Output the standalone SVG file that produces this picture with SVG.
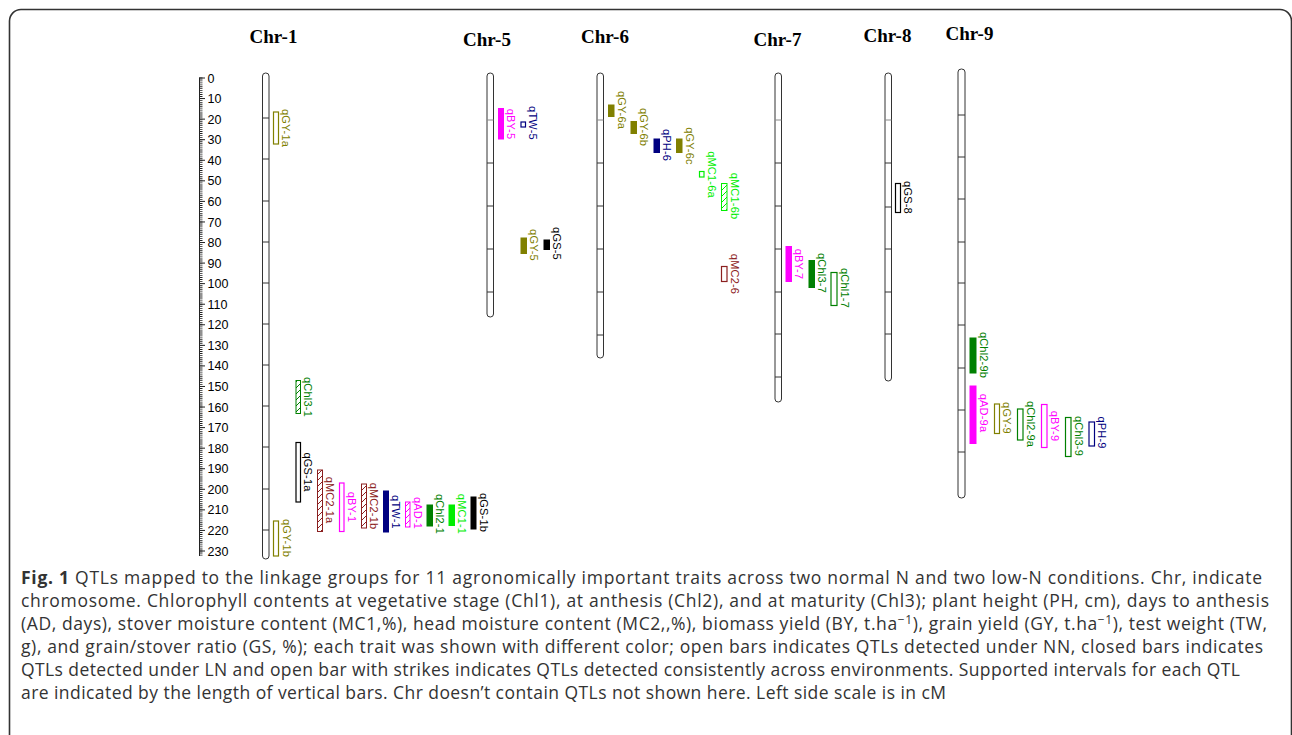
<svg xmlns="http://www.w3.org/2000/svg" width="1292" height="735" viewBox="0 0 1292 735">
<style>
.title{font-family:"Liberation Serif","Times New Roman",serif;font-weight:bold;font-size:19px;fill:#000;text-anchor:middle}
.scl{font-family:"Liberation Sans",Arial,sans-serif;font-size:12.5px;fill:#000}
.lbl{font-family:"Liberation Sans",Arial,sans-serif;font-size:11px;letter-spacing:0.2px;text-anchor:middle}
.chr{fill:#fff;stroke:#333;stroke-width:1}
.tk{stroke:#333;stroke-width:1}
.cap{font-family:"Open Sans","Noto Sans",sans-serif;font-size:17.5px;fill:#333}
.ol{stroke:#808000;fill:#808000}.mg{stroke:#ff00ff;fill:#ff00ff}.nv{stroke:#000080;fill:#000080}
.bk{stroke:#000;fill:#000}.lm{stroke:#00ee00;fill:#00ee00}.dr{stroke:#8b2020;fill:#8b2020}.gr{stroke:#008000;fill:#008000}
.open{fill:#fff;stroke-width:1.2}
.lbl.ol,.lbl.mg,.lbl.nv,.lbl.bk,.lbl.lm,.lbl.dr,.lbl.gr{stroke:none}
</style>
<defs>
<pattern id="h-gr" patternUnits="userSpaceOnUse" width="6" height="6"><rect width="6" height="6" fill="#fff"/><path d="M-1,7L7,-1M-1,1L1,-1M5,7L7,5" stroke="#008000" stroke-width="1"/></pattern>
<pattern id="h-dr" patternUnits="userSpaceOnUse" width="6" height="6"><rect width="6" height="6" fill="#fff"/><path d="M-1,7L7,-1M-1,1L1,-1M5,7L7,5" stroke="#8b2020" stroke-width="1"/></pattern>
<pattern id="h-mg" patternUnits="userSpaceOnUse" width="6" height="6"><rect width="6" height="6" fill="#fff"/><path d="M-1,7L7,-1M-1,1L1,-1M5,7L7,5" stroke="#ff00ff" stroke-width="1"/></pattern>
<pattern id="h-lm" patternUnits="userSpaceOnUse" width="6" height="6"><rect width="6" height="6" fill="#fff"/><path d="M-1,7L7,-1M-1,1L1,-1M5,7L7,5" stroke="#00ee00" stroke-width="1"/></pattern>
</defs>
<rect width="1292" height="735" fill="#fff"/>
<path d="M9.5,736V21A11.5,11.5 0 0 1 21,9.5H1280A11.5,11.5 0 0 1 1291.5,21V736" fill="none" stroke="#333" stroke-width="1.6"/>

<g id="scale">
<line x1="199.5" y1="78" x2="199.5" y2="556" stroke="#222" stroke-width="1"/>
<line x1="200.75" y1="77.55" x2="200.75" y2="556" stroke="#222" stroke-width="3.5" stroke-dasharray="0.9 1.1565"/>
<path stroke="#222" stroke-width="1" d="M199,78h6M199,98.57h6M199,119.13h6M199,139.7h6M199,160.26h6M199,180.83h6M199,201.39h6M199,221.96h6M199,242.52h6M199,263.09h6M199,283.65h6M199,304.22h6M199,324.78h6M199,345.35h6M199,365.91h6M199,386.48h6M199,407.04h6M199,427.61h6M199,448.17h6M199,468.74h6M199,489.3h6M199,509.87h6M199,530.43h6M199,551h6"/>
<g class="scl">
<text x="207.5" y="82.5">0</text><text x="207.5" y="103.1">10</text><text x="207.5" y="123.6">20</text><text x="207.5" y="144.2">30</text><text x="207.5" y="164.8">40</text><text x="207.5" y="185.3">50</text><text x="207.5" y="205.9">60</text><text x="207.5" y="226.5">70</text><text x="207.5" y="247">80</text><text x="207.5" y="267.6">90</text><text x="207.5" y="288.2">100</text><text x="207.5" y="308.7">110</text><text x="207.5" y="329.3">120</text><text x="207.5" y="349.9">130</text><text x="207.5" y="370.4">140</text><text x="207.5" y="391">150</text><text x="207.5" y="411.5">160</text><text x="207.5" y="432.1">170</text><text x="207.5" y="452.7">180</text><text x="207.5" y="473.2">190</text><text x="207.5" y="493.8">200</text><text x="207.5" y="514.4">210</text><text x="207.5" y="534.9">220</text><text x="207.5" y="555.5">230</text>
</g>
</g>

<g id="chr-1">
<text class="title" x="273.5" y="43">Chr-1</text>
<rect class="chr" x="262.5" y="73" width="6.5" height="486" rx="3.2" ry="3"/>
<path class="tk" d="M262.5,118h6.5M262.5,159h6.5M262.5,201h6.5M262.5,242h6.5M262.5,283h6.5M262.5,324h6.5M262.5,365h6.5M262.5,406h6.5M262.5,447h6.5M262.5,489h6.5M262.5,530h6.5"/>
</g>
<g id="chr-5">
<text class="title" x="487" y="45.5">Chr-5</text>
<rect class="chr" x="487" y="73" width="6.5" height="244" rx="3.2" ry="3"/>
<path class="tk" d="M487,163h6.5M487,206h6.5M487,249h6.5M487,292h6.5"/><path d="M487,120h6.5" stroke="#888"/>
</g>
<g id="chr-6">
<text class="title" x="605" y="43">Chr-6</text>
<rect class="chr" x="597" y="73" width="6.5" height="285" rx="3.2" ry="3"/>
<path class="tk" d="M597,163h6.5M597,206h6.5M597,249h6.5M597,292h6.5M597,335h6.5"/><path d="M597,120h6.5" stroke="#888"/>
</g>
<g id="chr-7">
<text class="title" x="777.5" y="46">Chr-7</text>
<rect class="chr" x="775" y="73" width="6.5" height="329" rx="3.2" ry="3"/>
<path class="tk" d="M775,163h6.5M775,206h6.5M775,249h6.5M775,292h6.5M775,334h6.5M775,377h6.5"/><path d="M775,120h6.5" stroke="#888"/>
</g>
<g id="chr-8">
<text class="title" x="887.5" y="42">Chr-8</text>
<rect class="chr" x="885" y="73" width="6.5" height="308" rx="3.2" ry="3"/>
<path class="tk" d="M885,163h6.5M885,207h6.5M885,249h6.5M885,292h6.5M885,334h6.5"/><path d="M885,120h6.5" stroke="#888"/>
</g>
<g id="chr-9">
<text class="title" x="969.5" y="40">Chr-9</text>
<rect class="chr" x="958" y="69" width="7" height="429" rx="3.4" ry="3"/>
<path class="tk" d="M958,115h7M958,157h7M958,199h7M958,242h7M958,283h7M958,325h7M958,368h7M958,410h7M958,452h7"/>
</g>

<g id="qGY-1a"><rect class="ol open" x="273.5" y="112" width="5" height="32"/><text class="lbl ol" transform="translate(282,128) rotate(90)">qGY-1a</text></g>
<g id="qChl3-1"><rect class="gr" x="296" y="380.5" width="4.5" height="33" style="fill:url(#h-gr)"/><text class="lbl gr" transform="translate(304,397) rotate(90)">qChl3-1</text></g>
<g id="qGS-1a"><rect class="bk open" x="296" y="442.5" width="4.5" height="59.5"/><text class="lbl bk" transform="translate(304,472) rotate(90)">qGS-1a</text></g>
<g id="qGY-1b"><rect class="ol open" x="273.5" y="521" width="5" height="35"/><text class="lbl ol" transform="translate(282.5,538) rotate(90)">qGY-1b</text></g>
<g id="qMC2-1a"><rect class="dr" style="fill:url(#h-dr)" x="317.5" y="470" width="5" height="61.5"/><text class="lbl dr" transform="translate(326,500) rotate(90)">qMC2-1a</text></g>
<g id="qBY-1"><rect class="mg open" x="339.5" y="483" width="4.5" height="48.5"/><text class="lbl mg" transform="translate(347.5,507) rotate(90)">qBY-1</text></g>
<g id="qMC2-1b"><rect class="dr" style="fill:url(#h-dr)" x="361.5" y="484" width="5" height="44"/><text class="lbl dr" transform="translate(370,506) rotate(90)">qMC2-1b</text></g>
<g id="qTW-1"><rect class="nv" x="383.5" y="491" width="5" height="41"/><text class="lbl nv" transform="translate(392,512) rotate(90)">qTW-1</text></g>
<g id="qAD-1"><rect class="mg" style="fill:url(#h-mg)" x="405.5" y="502" width="4.5" height="25"/><text class="lbl mg" transform="translate(413.5,513) rotate(90)">qAD-1</text></g>
<g id="qChl2-1"><rect class="gr" x="427" y="505" width="5.5" height="21"/><text class="lbl gr" transform="translate(435.5,514) rotate(90)">qChl2-1</text></g>
<g id="qMC1-1"><rect class="lm" x="449" y="505" width="5.5" height="20.5"/><text class="lbl lm" transform="translate(457.5,514) rotate(90)">qMC1-1</text></g>
<g id="qGS-1b"><rect class="bk" x="471" y="497" width="5" height="32"/><text class="lbl bk" transform="translate(479.5,512.5) rotate(90)">qGS-1b</text></g>

<g id="qBY-5"><rect class="mg" x="498.5" y="108.5" width="5" height="30.5"/><text class="lbl mg" transform="translate(507,124) rotate(90)">qBY-5</text></g>
<g id="qTW-5"><rect class="nv open" x="521" y="122" width="4.5" height="5"/><text class="lbl nv" transform="translate(529,123) rotate(90)">qTW-5</text></g>
<g id="qGY-5"><rect class="ol" x="521" y="238" width="5.5" height="15.5"/><text class="lbl ol" transform="translate(530,245) rotate(90)">qGY-5</text></g>
<g id="qGS-5"><rect class="bk" x="544" y="240" width="5.5" height="9.5"/><text class="lbl bk" transform="translate(553,243.5) rotate(90)">qGS-5</text></g>

<g id="qGY-6a"><rect class="ol" x="608.5" y="105" width="5.5" height="11.5"/><text class="lbl ol" transform="translate(617.5,110) rotate(90)">qGY-6a</text></g>
<g id="qGY-6b"><rect class="ol" x="631" y="121.5" width="5.5" height="12"/><text class="lbl ol" transform="translate(640,127) rotate(90)">qGY-6b</text></g>
<g id="qPH-6"><rect class="nv" x="654" y="139" width="5.5" height="13.5"/><text class="lbl nv" transform="translate(663,145) rotate(90)">qPH-6</text></g>
<g id="qGY-6c"><rect class="ol" x="676.5" y="139" width="5.5" height="13.5"/><text class="lbl ol" transform="translate(685.5,146) rotate(90)">qGY-6c</text></g>
<g id="qMC1-6a"><rect class="lm open" x="699.5" y="171.5" width="4.5" height="5.5"/><text class="lbl lm" transform="translate(708,174.5) rotate(90)">qMC1-6a</text></g>
<g id="qMC1-6b"><rect class="lm" style="fill:url(#h-lm)" x="721.5" y="183.5" width="5.5" height="27"/><text class="lbl lm" transform="translate(730.5,196) rotate(90)">qMC1-6b</text></g>
<g id="qMC2-6"><rect class="dr open" x="721.5" y="266.5" width="5.5" height="15"/><text class="lbl dr" transform="translate(730.5,274) rotate(90)">qMC2-6</text></g>

<g id="qBY-7"><rect class="mg" x="786" y="246.5" width="5.5" height="35"/><text class="lbl mg" transform="translate(795,264) rotate(90)">qBY-7</text></g>
<g id="qChl3-7"><rect class="gr" x="809" y="260.5" width="5.5" height="27"/><text class="lbl gr" transform="translate(818,273) rotate(90)">qChl3-7</text></g>
<g id="qChl1-7"><rect class="gr open" x="831" y="272.5" width="6" height="33"/><text class="lbl gr" transform="translate(840.5,288) rotate(90)">qChl1-7</text></g>

<g id="qGS-8"><rect class="bk open" x="895.5" y="183.5" width="5" height="29"/><text class="lbl bk" transform="translate(904,197.5) rotate(90)">qGS-8</text></g>

<g id="qChl2-9b"><rect class="gr" x="970" y="338" width="6" height="35"/><text class="lbl gr" transform="translate(979.5,355) rotate(90)">qChl2-9b</text></g>
<g id="qAD-9a"><rect class="mg" x="970" y="386" width="6" height="57.5"/><text class="lbl mg" transform="translate(979.5,413) rotate(90)">qAD-9a</text></g>
<g id="qGY-9"><rect class="ol open" x="994.5" y="404" width="5" height="29.5"/><text class="lbl ol" transform="translate(1003,418) rotate(90)">qGY-9</text></g>
<g id="qChl2-9a"><rect class="gr open" x="1017.5" y="409" width="5.5" height="31"/><text class="lbl gr" transform="translate(1026.5,424) rotate(90)">qChl2-9a</text></g>
<g id="qBY-9"><rect class="mg open" x="1041.5" y="404.5" width="5.5" height="43"/><text class="lbl mg" transform="translate(1050.5,426) rotate(90)">qBY-9</text></g>
<g id="qChl3-9"><rect class="gr open" x="1065.5" y="417.5" width="5.5" height="39"/><text class="lbl gr" transform="translate(1074.5,436) rotate(90)">qChl3-9</text></g>
<g id="qPH-9"><rect class="nv open" x="1089" y="422" width="5.5" height="24"/><text class="lbl nv" transform="translate(1098,432.5) rotate(90)">qPH-9</text></g>

<g id="caption" class="cap">
<text x="21" y="584" textLength="1241"><tspan font-weight="bold">Fig. 1</tspan> QTLs mapped to the linkage groups for 11 agronomically important traits across two normal N and two low-N conditions. Chr, indicate</text>
<text x="21" y="607" textLength="1248">chromosome. Chlorophyll contents at vegetative stage (Chl1), at anthesis (Chl2), and at maturity (Chl3); plant height (PH, cm), days to anthesis</text>
<text x="21" y="630" textLength="1246">(AD, days), stover moisture content (MC1,%), head moisture content (MC2,,%), biomass yield (BY, t.ha<tspan dy="-6" font-size="12">−1</tspan><tspan dy="6">), grain yield (GY, t.ha</tspan><tspan dy="-6" font-size="12">−1</tspan><tspan dy="6">), test weight (TW,</tspan></text>
<text x="21" y="653" textLength="1242">g), and grain/stover ratio (GS, %); each trait was shown with different color; open bars indicates QTLs detected under NN, closed bars indicates</text>
<text x="21" y="676" textLength="1219">QTLs detected under LN and open bar with strikes indicates QTLs detected consistently across environments. Supported intervals for each QTL</text>
<text x="21" y="699" textLength="925">are indicated by the length of vertical bars. Chr doesn’t contain QTLs not shown here. Left side scale is in cM</text>
</g>
</svg>
